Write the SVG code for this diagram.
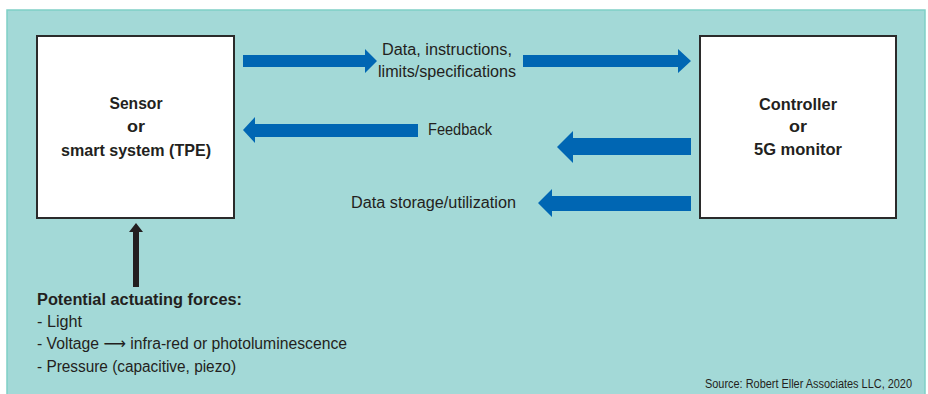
<svg xmlns="http://www.w3.org/2000/svg" width="928" height="394" viewBox="0 0 928 394">
  <style>
    .panel { fill: #a3d9d7; stroke: #7fcfc6; stroke-width: 1.5; }
    .box { fill: #ffffff; stroke: #2b2b2b; stroke-width: 2; }
    .flow { fill: #0066b3; }
    .force { fill: #231f20; }
    text { font-family: "Liberation Sans", Arial, sans-serif; fill: #231f20; }
    .title { font-size: 17px; font-weight: bold; text-anchor: middle; }
    .label { font-size: 16px; }
    .note { font-size: 12px; }
    .sym { font-family: "DejaVu Sans", sans-serif; }
  </style>

  <!-- background panel -->
  <rect class="panel" x="7" y="10" width="918" height="392"/>

  <!-- sensor node -->
  <g id="sensor">
    <rect class="box" x="37" y="36" width="197" height="182"/>
    <text class="title" x="136" y="109" textLength="53" lengthAdjust="spacingAndGlyphs">Sensor</text>
    <text class="title" x="136" y="132" textLength="18" lengthAdjust="spacingAndGlyphs">or</text>
    <text class="title" x="136" y="156" textLength="150" lengthAdjust="spacingAndGlyphs">smart system (TPE)</text>
  </g>

  <!-- controller node -->
  <g id="controller">
    <rect class="box" x="700" y="36" width="196" height="182"/>
    <text class="title" x="798" y="110" textLength="78" lengthAdjust="spacingAndGlyphs">Controller</text>
    <text class="title" x="798" y="132" textLength="18" lengthAdjust="spacingAndGlyphs">or</text>
    <text class="title" x="798" y="155" textLength="88" lengthAdjust="spacingAndGlyphs">5G monitor</text>
  </g>

  <!-- connectors -->
  <g id="connectors">
    <!-- data / instructions: sensor to controller -->
    <polygon class="flow" points="243,55 365,55 365,49 377,61 365,73 365,67 243,67"/>
    <polygon class="flow" points="523,55 678,55 678,49 691,61 678,73 678,67 523,67"/>
    <!-- feedback -->
    <polygon class="flow" points="418,124 255,124 255,117 243,130 255,143 255,137 418,137"/>
    <polygon class="flow" points="691,138 573,138 573,131 557,147 573,163 573,155 691,155"/>
    <!-- data storage -->
    <polygon class="flow" points="691,196 552,196 552,189 538,203 552,217 552,211 691,211"/>
    <!-- actuating force into sensor -->
    <polygon class="force" points="133,287 133,232 129,232 136,223 143,232 139,232 139,287"/>
  </g>

  <!-- connector labels -->
  <g id="labels">
    <text class="label" x="447" y="55" text-anchor="middle" textLength="130" lengthAdjust="spacingAndGlyphs">Data, instructions,</text>
    <text class="label" x="447" y="77" text-anchor="middle" textLength="138" lengthAdjust="spacingAndGlyphs">limits/specifications</text>
    <text class="label" x="428" y="135" textLength="64" lengthAdjust="spacingAndGlyphs">Feedback</text>
    <text class="label" x="351" y="208" textLength="165" lengthAdjust="spacingAndGlyphs">Data storage/utilization</text>
  </g>

  <!-- actuating forces list -->
  <g id="forces">
    <text class="label" x="37" y="305" font-weight="bold" textLength="205" lengthAdjust="spacingAndGlyphs">Potential actuating forces:</text>
    <text class="label" x="37" y="327" textLength="45" lengthAdjust="spacingAndGlyphs">- Light</text>
    <text class="label" x="37" y="349" textLength="310" lengthAdjust="spacingAndGlyphs">- Voltage <tspan class="sym">⟶</tspan> infra-red or photoluminescence</text>
    <text class="label" x="37" y="372" textLength="199" lengthAdjust="spacingAndGlyphs">- Pressure (capacitive, piezo)</text>
  </g>

  <text class="note" x="912" y="388" text-anchor="end" textLength="207" lengthAdjust="spacingAndGlyphs">Source: Robert Eller Associates LLC, 2020</text>
</svg>
